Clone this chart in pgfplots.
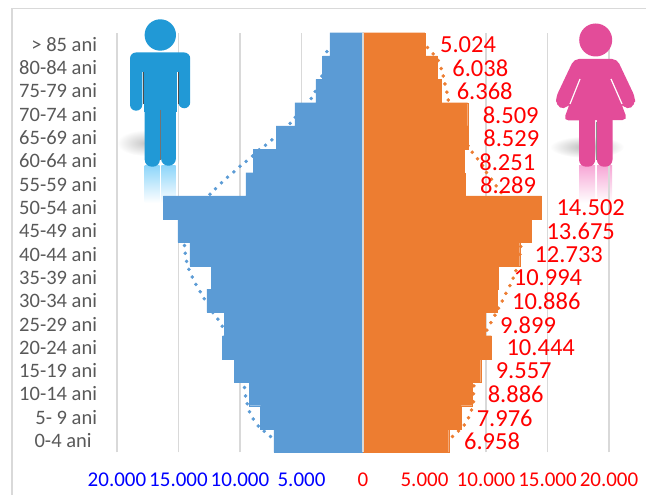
\documentclass[border=0pt]{standalone}
\usepackage{pgfplots}
\usepackage{pgfplotstable}
\pgfplotsset{compat=1.18}
\usepackage{fontspec}
\setmainfont{Carlito}
\definecolor{mbar}{HTML}{5B9BD5}
\definecolor{fbar}{HTML}{ED7D31}
\definecolor{gridc}{HTML}{D9D9D9}
\definecolor{lab}{HTML}{595959}
\definecolor{micon}{HTML}{2199D6}
\definecolor{ficon}{HTML}{E34C99}
\definecolor{mrefl}{HTML}{8FD6FA}
\definecolor{frefl}{HTML}{F7A8D6}
\pgfplotstableread{
y male female
0 7240 6958
1 8330 7976
2 9250 8886
3 10470 9557
4 11420 10444
5 11260 9899
6 12690 10886
7 12320 10994
8 14070 12733
9 15050 13675
10 16240 14502
11 9520 8289
12 8930 8251
13 7060 8529
14 5540 8509
15 3830 6368
16 3290 6038
17 2690 5024
}\datatable
\begin{document}
\begin{tikzpicture}[x=1bp,y=1bp]
\useasboundingbox (0,0) rectangle (646,495);
\begin{scope}[x=1bp,y=-1bp,yshift=495bp]
  % frame
  \draw[gridc,line width=1.5bp] (12,495) -- (12,8.3) -- (646,8.3);
  % shadows
  \shade[inner color=black!22,outer color=white] (145,143) ellipse (28 and 13);
  \shade[inner color=black!28,outer color=white] (587,147) ellipse (37 and 11);
  % reflections
  \shade[top color=mrefl,bottom color=white] (144.7,166) rectangle (159.7,203);
  \shade[top color=mrefl,bottom color=white] (161.3,166) rectangle (175.7,203);
  \shade[top color=frefl,bottom color=white] (579,166) rectangle (595,203);
  \shade[top color=frefl,bottom color=white] (597,166) rectangle (612,203);
\end{scope}
\begin{axis}[
  at={(117bp,42.7bp)},anchor=south west,
  scale only axis,width=492bp,height=419.6bp,
  xmin=-20000,xmax=20000,ymin=-0.5,ymax=17.5,
  axis line style={draw=none},
  major tick length=0pt,
  scaled x ticks=false,
  xmajorgrids,
  grid style={gridc,line width=1.5bp},
  xtick={-20000,-15000,-10000,-5000,0,5000,10000,15000,20000},
  xticklabels={{\color{blue}20.000},{\color{blue}15.000},{\color{blue}10.000},{\color{blue}5.000},{\color{red}0},{\color{red}5.000},{\color{red}10.000},{\color{red}15.000},{\color{red}20.000}},
  x tick label style={font=\fontsize{21bp}{24bp}\selectfont,yshift=-17bp},
  ytick={0,...,17},
  yticklabels={0-4 ani\rule{5.4bp}{0pt},5- 9 ani,10-14 ani,15-19 ani,20-24 ani,25-29 ani,30-34 ani,35-39 ani,40-44 ani,45-49 ani,50-54 ani,55-59 ani,60-64 ani,65-69 ani,70-74 ani,75-79 ani,80-84 ani,> 85 ani},
  y tick label style={font=\fontsize{20.5bp}{22bp}\selectfont,text=lab,xshift=-16.5bp},
  clip=false,
]
\addplot[only marks,mark=*,mark size=1.6bp,mbar,mark options={draw=mbar,fill=mbar}] coordinates {
(-2935,16.69)(-3341,15.64)(-3886,14.98)(-4211,14.68)(-5512,13.87)(-5919,13.61)
(-7406,12.90)(-7927,12.67)(-8439,12.48)(-8984,12.21)(-9496,11.98)(-10008,11.77)
(-10496,11.53)(-11016,11.30)(-11504,11.06)(-11992,10.81)(-12447,10.57)
(-14512,8.37)(-14455,8.04)(-14349,7.69)(-14154,7.35)(-13886,7.02)(-13585,6.70)
(-13236,6.39)(-12910,6.09)(-12203,5.49)(-11797,5.21)(-11447,4.91)
(-9634,2.28)(-9553,1.92)(-9415,1.58)(-9228,1.24)(-8927,0.93)(-8520,0.63)(-8032,0.40)(-7520,0.18)
};
\addplot[only marks,mark=*,mark size=1.6bp,fbar,mark options={draw=fbar,fill=fbar}] coordinates {
(5244,16.86)(5707,16.59)(6114,16.31)(6358,15.96)(6520,15.64)(6658,15.30)(6821,14.95)(6927,14.61)
(8528,12.65)(8878,12.37)(9309,12.09)(9715,11.80)(10041,11.50)(10447,11.21)(10829,10.93)(11236,10.64)
(12821,8.33)(12756,7.99)(12431,7.29)(12211,6.97)(11943,6.65)(11618,6.32)(11317,5.99)(11016,5.68)
(10723,5.38)(10398,5.06)(10073,4.74)
(9016,2.35)(8984,2.01)(8984,1.67)(8821,1.31)(8577,0.98)(8228,0.67)(7764,0.41)(7276,0.18)
};
\addplot[xbar,bar width=1,bar shift=0pt,fill=mbar,draw=mbar,line width=0.1pt] table[x expr=-\thisrow{male},y=y] {\datatable};
\addplot[xbar,bar width=1,bar shift=0pt,fill=fbar,draw=fbar,line width=0.1pt] table[x=female,y=y] {\datatable};
\addplot[gridc,line width=1.5bp] coordinates {(0,-0.5)(0,17.5)};
\end{axis}
\begin{scope}[x=1bp,y=-1bp,yshift=495bp]
  % male icon
  \fill[micon] (160.3,35) circle (15.7);
  \fill[micon,rounded corners=6bp] (130,52.5) rectangle (190.2,72);
  \fill[micon,rounded corners=6bp] (130,62) rectangle (142.3,110.7);
  \fill[micon,rounded corners=6bp] (178.3,62) rectangle (190.2,108.3);
  \fill[micon] (143.6,60) rectangle (177,112);
  \fill[micon,rounded corners=7bp] (144.7,100) rectangle (159.9,166.7);
  \fill[micon,rounded corners=7bp] (161.1,100) rectangle (175.9,165.7);
  \draw[black!70,line width=0.8bp] (143,72) -- (143,104);
  \draw[black!70,line width=0.8bp] (178,72) -- (178,104);
  \draw[black!55,line width=0.6bp] (160.5,110) -- (160.5,160);
  % female icon
  \fill[ficon] (595.7,40) circle (16.5);
  \fill[ficon,rounded corners=5bp] (574,59) -- (617,59) -- (635,97) -- (635,105) -- (627,110) -- (621,103) -- (627.5,120) -- (563.5,120.5) -- (570,103) -- (564,110) -- (556,105) -- (556,97) -- cycle;
  \fill[ficon,rounded corners=7bp] (579,112) rectangle (595.2,166.7);
  \fill[ficon,rounded corners=7bp] (596.9,112) rectangle (612.5,166.7);
  \draw[white,line width=1.2bp] (580,79) -- (570,104);
  \draw[white,line width=1.2bp] (611,79) -- (622,104);
  \draw[black!45,line width=0.5bp] (596,122) -- (596,160);
\end{scope}
\begin{scope}[x=1bp,y=-1bp,yshift=495bp,every node/.style={text=red,font=\fontsize{24.5bp}{26bp}\selectfont,inner sep=0pt}]
  \node at (468,44.7) {5.024};
  \node at (480.3,68) {6.038};
  \node at (484.7,91.7) {6.368};
  \node at (510.7,115) {8.509};
  \node at (511.3,138) {8.529};
  \node at (507.3,162) {8.251};
  \node at (508,185) {8.289};
  \node at (590.7,208) {14.502};
  \node at (580.7,231) {13.675};
  \node at (568.7,255) {12.733};
  \node at (548,277.7) {10.994};
  \node at (546.3,301) {10.886};
  \node at (528,325) {9.899};
  \node at (540.7,348) {10.444};
  \node at (523.7,371) {9.557};
  \node at (515.7,394.5) {8.886};
  \node at (504.7,418) {7.976};
  \node at (492,441) {6.958};
\end{scope}
\end{tikzpicture}
\end{document}
